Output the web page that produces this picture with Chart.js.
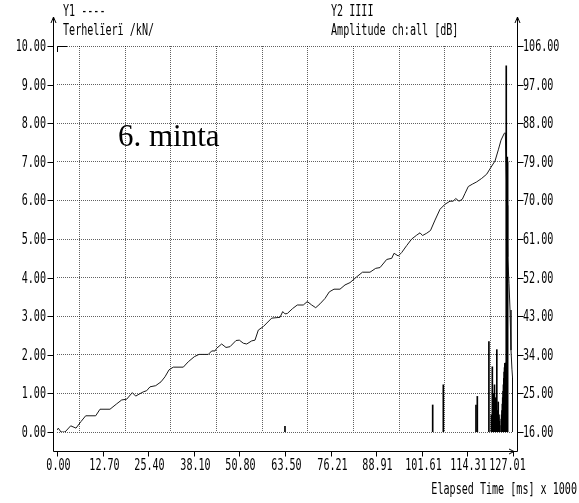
<!DOCTYPE html>
<html>
<head>
<meta charset="utf-8">
<script src="https://cdn.jsdelivr.net/npm/chart.js@4/dist/chart.umd.min.js"></script>
<style>
  html, body { margin: 0; padding: 0; background: #fff; }
  canvas { display: block; }
</style>
</head>
<body>
<canvas id="c" width="579" height="503"></canvas>
<script>
// Tick labels of the three axes
const timeTickLabels = ['0.00', '12.70', '25.40', '38.10', '50.80', '63.50', '76.21', '88.91', '101.61', '114.31', '127.01'];
const loadTickLabels = ['0.00', '1.00', '2.00', '3.00', '4.00', '5.00', '6.00', '7.00', '8.00', '9.00', '10.00'];
const ampTickLabels = ['16.00', '25.00', '34.00', '43.00', '52.00', '61.00', '70.00', '79.00', '88.00', '97.00', '106.00'];

// Y1: load [kN] against elapsed time [ms x 1000]
const loadTime = [0.00, 0.36, 1.11, 2.23, 3.82, 5.29, 6.68, 7.99, 10.78, 11.98, 14.76, 16.63, 18.02, 19.41,
  20.97, 21.92, 22.84, 24.04, 24.98, 25.90, 27.49, 28.97, 30.08, 31.20, 32.39, 35.18, 36.57, 38.24, 39.55,
  42.14, 43.09, 44.01, 44.48, 45.87, 47.07, 48.19, 49.86, 50.78, 51.89, 52.84, 54.23, 55.15, 56.07, 57.46,
  59.80, 62.11, 62.87, 63.51, 64.15, 65.65, 66.93, 68.60, 69.72, 70.94, 72.06, 73.25, 74.65, 75.84, 77.15,
  78.82, 80.22, 81.61, 83.48, 85.09, 87.18, 88.77, 89.97, 91.83, 93.23, 93.87, 95.06, 96.01, 97.40, 98.80,
  100.19, 101.11, 101.81, 102.98, 104.03, 105.29, 106.68, 108.07, 109.46, 110.38, 111.05, 111.97, 112.89,
  113.64, 114.56, 115.67, 116.90, 118.29, 119.69, 120.88, 122.00, 122.92, 123.67, 124.59, 124.87,
  125.20, 125.34, 125.53, 125.90, 126.18, 126.45, 126.73, 126.93, 127.01];
const loadKN = [0.05, 0.10, 0.00, 0.00, 0.16, 0.10, 0.27, 0.42, 0.42, 0.59, 0.59, 0.73, 0.83, 0.85,
  1.02, 0.93, 0.98, 1.04, 1.07, 1.17, 1.20, 1.30, 1.43, 1.61, 1.68, 1.68, 1.82, 1.95, 2.01,
  2.01, 2.10, 2.10, 2.17, 2.28, 2.19, 2.21, 2.37, 2.38, 2.30, 2.28, 2.36, 2.38, 2.64, 2.73,
  2.95, 2.97, 3.12, 3.06, 3.07, 3.20, 3.29, 3.29, 3.38, 3.29, 3.22, 3.32, 3.46, 3.63, 3.70,
  3.70, 3.81, 3.87, 4.02, 4.14, 4.14, 4.24, 4.26, 4.47, 4.50, 4.63, 4.56, 4.65, 4.83, 5.00,
  5.10, 5.16, 5.09, 5.15, 5.22, 5.49, 5.77, 5.90, 5.98, 5.98, 6.05, 5.98, 6.03,
  6.18, 6.36, 6.42, 6.48, 6.57, 6.68, 6.86, 7.02, 7.31, 7.56, 7.74, 7.75,
  6.50, 5.87, 4.54, 3.85, 3.16, 2.12, 1.61, 1.35, 0.57];

// Y2: acoustic emission hit amplitudes [dB]
const hitTime = [63.50, 104.64, 107.60, 116.70, 117.07, 120.30,
  121.00, 121.12, 121.25, 121.38, 121.45, 121.55, 121.65, 121.75, 121.85, 121.95, 122.05, 122.15, 122.25,
  122.38, 122.50, 122.60, 122.70, 122.80, 122.90, 123.00, 123.10, 123.20, 123.30,
  123.75, 123.85, 123.95, 124.05, 124.15, 124.25, 124.35, 124.45, 124.55, 124.65, 124.75, 124.85, 124.95,
  125.13, 125.42, 125.50, 127.00];
const hitDB = [17.3, 22.3, 27.0, 22.3, 24.3, 37.1,
  20.0, 19.0, 31.2, 21.0, 22.0, 20.5, 25.0, 23.0, 27.0, 21.5, 24.0, 20.0, 22.0,
  19.5, 35.2, 20.0, 21.0, 19.0, 23.0, 19.5, 20.0, 18.5, 17.5,
  19.0, 20.0, 21.0, 22.5, 24.0, 25.5, 27.0, 28.5, 30.0, 31.0, 32.0, 31.5, 32.1,
  101.4, 80.1, 79.0, 28.6];

// Narrow terminal-style lettering: a monospace face squeezed horizontally
const monoFont = '16px "DejaVu Sans Mono", "Liberation Mono", monospace';
const squeeze = 0.63;
function label(ctx, text, x, y, align) {
  ctx.save();
  ctx.translate(x, y);
  ctx.scale(squeeze, 1);
  ctx.font = monoFont;
  ctx.textAlign = align;
  ctx.textBaseline = 'middle';
  ctx.fillText(text, 0, 0);
  ctx.restore();
}

const gridStyle = { color: 'rgba(0,0,0,0.62)', lineWidth: 1, drawTicks: false };

// Open axis frame with arrows, tick marks, tick labels and captions
const axisFrame = {
  id: 'axisFrame',
  afterDraw(chart) {
    const { ctx, scales } = chart;
    const xl = 53.5, xr = 517.5, yb = 451.5, yt = 17;
    ctx.save();
    ctx.strokeStyle = '#000';
    ctx.fillStyle = '#000';
    ctx.lineWidth = 1;
    ctx.beginPath();
    ctx.moveTo(xl, yt); ctx.lineTo(xl, yb); ctx.lineTo(xr, yb); ctx.lineTo(xr, yt);
    // arrowheads
    ctx.moveTo(xl - 2.5, yt + 6); ctx.lineTo(xl, yt); ctx.lineTo(xl + 2.5, yt + 6);
    ctx.moveTo(xr - 2.5, yt + 6); ctx.lineTo(xr, yt); ctx.lineTo(xr + 2.5, yt + 6);
    ctx.moveTo(509, yb - 2.5); ctx.lineTo(514, yb); ctx.lineTo(509, yb + 2.5);
    // tick marks and their labels
    scales.y.ticks.forEach((t, i) => {
      const p = Math.round(scales.y.getPixelForValue(t.value)) + 0.5;
      ctx.moveTo(xl - 6, p); ctx.lineTo(xl, p);
      label(ctx, loadTickLabels[i], 46, p, 'right');
    });
    scales.y2.ticks.forEach((t, i) => {
      const p = Math.round(scales.y2.getPixelForValue(t.value)) + 0.5;
      ctx.moveTo(xr, p); ctx.lineTo(xr + 6, p);
      label(ctx, ampTickLabels[i], 523, p, 'left');
    });
    const last = scales.x.ticks.length - 1;
    scales.x.ticks.forEach((t, i) => {
      const p = Math.round(scales.x.getPixelForValue(t.value)) + 0.5;
      ctx.moveTo(p, yb); ctx.lineTo(p, yb + 5);
      // the last label is pulled in so it stays under the frame
      label(ctx, timeTickLabels[i], p + (i === last ? -6 : 1), 466, 'center');
    });
    // solid corner of the grid
    const a = chart.chartArea;
    ctx.moveTo(a.left + 0.5, a.top + 6); ctx.lineTo(a.left + 0.5, a.top + 0.5); ctx.lineTo(a.left + 10, a.top + 0.5);
    ctx.stroke();

    label(ctx, 'Y1 ----', 63, 12, 'left');
    label(ctx, 'Terhelïerï /kN/', 63, 31, 'left');
    label(ctx, 'Y2 IIII', 331, 12, 'left');
    label(ctx, 'Amplitude ch:all [dB]', 331, 31, 'left');
    label(ctx, 'Elapsed Time [ms] x 1000', 577, 490, 'right');

    ctx.font = '31px "Liberation Serif", "Times New Roman", serif';
    ctx.textAlign = 'left';
    ctx.textBaseline = 'alphabetic';
    ctx.fillText('6. minta', 118, 146);
    ctx.restore();
  }
};

new Chart(document.getElementById('c'), {
  type: 'line',
  data: {
    datasets: [
      {
        type: 'bar',
        label: 'Amplitude',
        data: hitTime.map((t, i) => ({ x: t, y: hitDB[i] })),
        yAxisID: 'y2',
        backgroundColor: '#000',
        borderWidth: 0,
        barThickness: 1,
        order: 0
      },
      {
        type: 'line',
        label: 'Terhelőerő',
        data: loadTime.map((t, i) => ({ x: t, y: loadKN[i] })),
        yAxisID: 'y',
        borderColor: '#1a1a1a',
        borderWidth: 1,
        pointRadius: 0,
        tension: 0,
        fill: false,
        order: 1
      }
    ]
  },
  options: {
    responsive: false,
    animation: false,
    devicePixelRatio: 1,
    layout: { padding: { top: 46, left: 0, right: 0, bottom: 0 } },
    plugins: { legend: { display: false }, tooltip: { enabled: false }, title: { display: false } },
    scales: {
      x: {
        type: 'linear',
        min: 0,
        max: 127.01,
        offset: false,
        afterBuildTicks: s => { s.ticks = timeTickLabels.map(l => ({ value: parseFloat(l) })); },
        afterFit: s => { s.height = 71; },
        ticks: { display: false },
        grid: gridStyle,
        border: { display: false, dash: [1, 1] }
      },
      y: {
        position: 'left',
        min: 0,
        max: 10,
        afterBuildTicks: s => { s.ticks = loadTickLabels.map(l => ({ value: parseFloat(l) })); },
        afterFit: s => { s.width = 57; },
        ticks: { display: false },
        grid: gridStyle,
        border: { display: false, dash: [1, 1] }
      },
      y2: {
        position: 'right',
        min: 16,
        max: 106,
        afterBuildTicks: s => { s.ticks = ampTickLabels.map(l => ({ value: parseFloat(l) })); },
        afterFit: s => { s.width = 66; },
        ticks: { display: false },
        grid: { drawOnChartArea: false, drawTicks: false },
        border: { display: false }
      }
    }
  },
  plugins: [axisFrame]
});
</script>
</body>
</html>
